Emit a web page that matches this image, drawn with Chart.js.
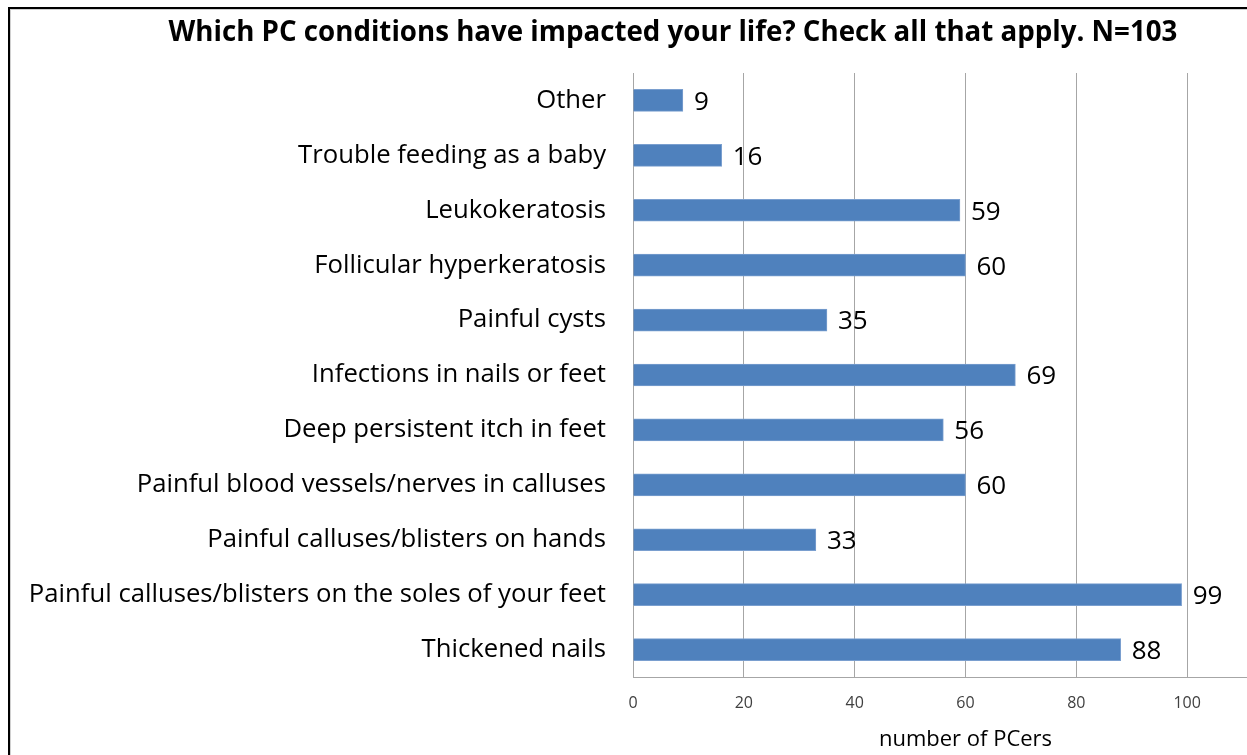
<!DOCTYPE html>
<html lang="en">
<head>
<meta charset="UTF-8">
<title>PC conditions</title>
<script src="https://cdn.jsdelivr.net/npm/chart.js"></script>
<style>
  html, body { margin: 0; padding: 0; overflow: hidden; background: #fff; }
  #frame { position: absolute; left: 8px; top: 7px; width: 1340px; height: 820px;
           border: 2px solid #000; box-shadow: inset 1px 1px 0 #d0d0d0; }
  #wrap { position: absolute; left: 0; top: 0; width: 1340px; height: 772px; }
</style>
</head>
<body>
<div id="frame"></div>
<div id="wrap"><canvas id="bars" width="1340" height="772"></canvas></div>

<script>
// categories top to bottom, as in the picture
const conditions = [
  'Other',
  'Trouble feeding as a baby',
  'Leukokeratosis',
  'Follicular hyperkeratosis',
  'Painful cysts',
  'Infections in nails or feet',
  'Deep persistent itch in feet',
  'Painful blood vessels/nerves in calluses',
  'Painful calluses/blisters on hands',
  'Painful calluses/blisters on the soles of your feet',
  'Thickened nails'
];
const counts = [9, 16, 59, 60, 35, 69, 56, 60, 33, 99, 88];
const xTicks = [0, 20, 40, 60, 80, 100, 120];
const chartTitle = 'Which PC conditions have impacted your life? Check all that apply. N=103';

const labelFont = '"Open Sans", sans-serif';

// value labels next to each bar end
const valueLabels = {
  id: 'valueLabels',
  afterDatasetsDraw(chart) {
    const ctx = chart.ctx;
    const meta = chart.getDatasetMeta(0);
    ctx.save();
    ctx.font = '26px ' + labelFont;
    ctx.fillStyle = '#000';
    ctx.textAlign = 'left';
    ctx.textBaseline = 'middle';
    meta.data.forEach((bar, i) => {
      ctx.fillText(String(counts[i]), bar.x + 11, bar.y + 2);
    });
    ctx.restore();
  }
};

// title is centred on the whole frame, not on the chart area
const frameTitle = {
  id: 'frameTitle',
  afterDraw(chart) {
    const ctx = chart.ctx;
    ctx.save();
    ctx.font = 'bold 27.7px ' + labelFont;
    ctx.fillStyle = '#000';
    ctx.textAlign = 'center';
    ctx.textBaseline = 'middle';
    ctx.fillText(chartTitle, 673, 33);
    ctx.restore();
  }
};

const ctx = document.getElementById('bars').getContext('2d');
new Chart(ctx, {
  type: 'bar',
  data: {
    labels: conditions,
    datasets: [{
      data: counts,
      backgroundColor: '#4F81BD',
      borderColor: '#7A9FCF',
      borderWidth: 1,
      barThickness: 22
    }]
  },
  plugins: [valueLabels, frameTitle],
  options: {
    indexAxis: 'y',
    responsive: false,
    animation: false,
    layout: { padding: { left: 0, right: 42, top: 73, bottom: 10 } },
    scales: {
      x: {
        min: 0,
        max: 120,
        afterBuildTicks: scale => { scale.ticks = xTicks.map(v => ({ value: v })); },
        grid: { color: '#a6a6a6', drawTicks: false },
        border: { color: '#a6a6a6' },
        ticks: { padding: 17, color: '#404040', font: { family: labelFont, size: 16 }, maxRotation: 0 },
        title: {
          display: true,
          text: 'number of PCers',
          color: '#000',
          font: { family: labelFont, size: 22 },
          padding: { top: -3.4, bottom: 8.8 }
        }
      },
      y: {
        afterFit: scale => { scale.width = 633; },
        grid: { display: false, drawTicks: false },
        border: { display: true, color: '#a6a6a6' },
        ticks: { padding: 27, color: '#000', font: { family: labelFont, size: 25.7 } }
      }
    },
    plugins: {
      legend: { display: false },
      tooltip: { enabled: false },
      title: { display: false }
    }
  }
});
</script>
</body>
</html>
